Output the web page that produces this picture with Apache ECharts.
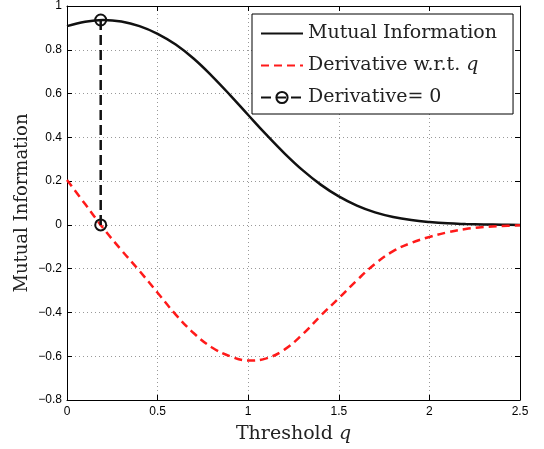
<!DOCTYPE html>
<html>
<head>
<meta charset="utf-8">
<script src="https://cdn.jsdelivr.net/npm/echarts@6/dist/echarts.min.js"></script>
<style>
  html, body { margin: 0; padding: 0; background: #fff; }
  #container { width: 544px; height: 449px; }
</style>
</head>
<body>
<div id="container"></div>
<script>
// values
const qValues = [0, 0.1, 0.2, 0.3, 0.4, 0.5, 0.6, 0.7, 0.8, 0.9, 1.0, 1.1, 1.2,
  1.3, 1.4, 1.5, 1.6, 1.7, 1.8, 1.9, 2.0, 2.1, 2.2, 2.3, 2.4, 2.5];
const miValues = [0.908, 0.928, 0.936, 0.929, 0.908, 0.873, 0.824, 0.759, 0.680, 0.593,
  0.502, 0.412, 0.327, 0.250, 0.184, 0.130, 0.088, 0.057, 0.036, 0.022,
  0.013, 0.007, 0.004, 0.002, 0.001, 0.0];
const derivValues = [0.205, 0.095, -0.015, -0.115, -0.21, -0.31, -0.41, -0.495, -0.56, -0.60,
  -0.62, -0.61, -0.57, -0.50, -0.415, -0.335, -0.253, -0.178, -0.12, -0.082,
  -0.055, -0.034, -0.019, -0.010, -0.005, -0.002];
const zeroQ = [0.186, 0.186];
const zeroValues = [0.936, 0];

const serif = '"DejaVu Serif", "Liberation Serif", serif';
const sans = '"Liberation Sans", Arial, sans-serif';

const chart = echarts.init(document.getElementById('container'));

const pairs = (xs, ys) => xs.map((x, i) => [x, ys[i]]);
const fmt = v => String(v).replace('-', '\u2212');

const gridLine = { show: true, lineStyle: { color: '#999', type: [1, 3], width: 1 } };
const tickIn = { show: true, inside: true, length: 5, lineStyle: { color: '#000' } };
const axisLine = { show: true, onZero: false, lineStyle: { color: '#000', width: 1 } };
const italic = { fontFamily: serif, fontSize: 19, fontStyle: 'italic', color: '#222' };
const noMarker = { color: 'rgba(0,0,0,0)', borderWidth: 0 };

const option = {
  backgroundColor: '#fff',
  animation: false,
  grid: { left: 67, right: 24, top: 6, bottom: 47 },
  legend: {
    left: 252,
    top: 14,
    orient: 'vertical',
    backgroundColor: '#fff',
    borderColor: '#000',
    borderWidth: 1,
    borderRadius: 0,
    padding: [10, 16, 7, 8],
    itemWidth: 42,
    itemHeight: 14,
    itemGap: 13,
    textStyle: { fontFamily: serif, fontSize: 19, color: '#222', rich: { it: italic } },
    formatter: name => name === 'Derivative w.r.t. q' ? 'Derivative w.r.t. {it|q}' : name,
    data: [
      { name: 'Mutual Information', itemStyle: noMarker },
      { name: 'Derivative w.r.t. q', itemStyle: noMarker },
      { name: 'Derivative= 0' }
    ]
  },
  xAxis: [{
    type: 'value',
    min: 0, max: 2.5, interval: 0.5,
    name: 'Threshold {it|q}',
    nameLocation: 'middle',
    nameGap: 25,
    nameMoveOverlap: false,
    nameTextStyle: { fontFamily: serif, fontSize: 19, color: '#222', rich: { it: italic } },
    axisLine: axisLine,
    axisTick: tickIn,
    splitLine: gridLine,
    axisLabel: { fontFamily: sans, fontSize: 12, color: '#000', margin: 6, formatter: fmt }
  }, {
    type: 'value',
    position: 'top',
    min: 0, max: 2.5, interval: 0.5,
    axisLine: axisLine,
    axisTick: tickIn,
    splitLine: { show: false },
    axisLabel: { show: false }
  }],
  yAxis: [{
    type: 'value',
    min: -0.8, max: 1, interval: 0.2,
    name: 'Mutual Information',
    nameLocation: 'middle',
    nameGap: 36,
    nameMoveOverlap: false,
    nameRotate: 90,
    nameTextStyle: { fontFamily: serif, fontSize: 18, color: '#222' },
    axisLine: axisLine,
    axisTick: tickIn,
    splitLine: gridLine,
    axisLabel: {
      fontFamily: sans, fontSize: 12, color: '#000', margin: 5,
      formatter: v => fmt(Math.round(v * 10) / 10)
    }
  }, {
    type: 'value',
    position: 'right',
    min: -0.8, max: 1, interval: 0.2,
    axisLine: axisLine,
    axisTick: tickIn,
    splitLine: { show: false },
    axisLabel: { show: false }
  }],
  series: [{
    name: 'Mutual Information',
    type: 'line',
    smooth: 0.4,
    symbol: 'none',
    data: pairs(qValues, miValues),
    lineStyle: { color: '#111', width: 2.5 },
    itemStyle: { color: '#111' }
  }, {
    name: 'Derivative w.r.t. q',
    type: 'line',
    smooth: 0.4,
    symbol: 'none',
    data: pairs(qValues, derivValues),
    lineStyle: { color: '#ff1a1a', width: 2.5, type: [8, 5] },
    itemStyle: { color: '#ff1a1a' }
  }, {
    name: 'Derivative= 0',
    type: 'line',
    symbol: 'circle',
    symbolSize: 11,
    data: pairs(zeroQ, zeroValues),
    lineStyle: { color: '#111', width: 2.5, type: [10, 5] },
    itemStyle: { color: 'rgba(0,0,0,0)', borderColor: '#111', borderWidth: 2 },
    z: 3
  }]
};

chart.setOption(option);
</script>
</body>
</html>
